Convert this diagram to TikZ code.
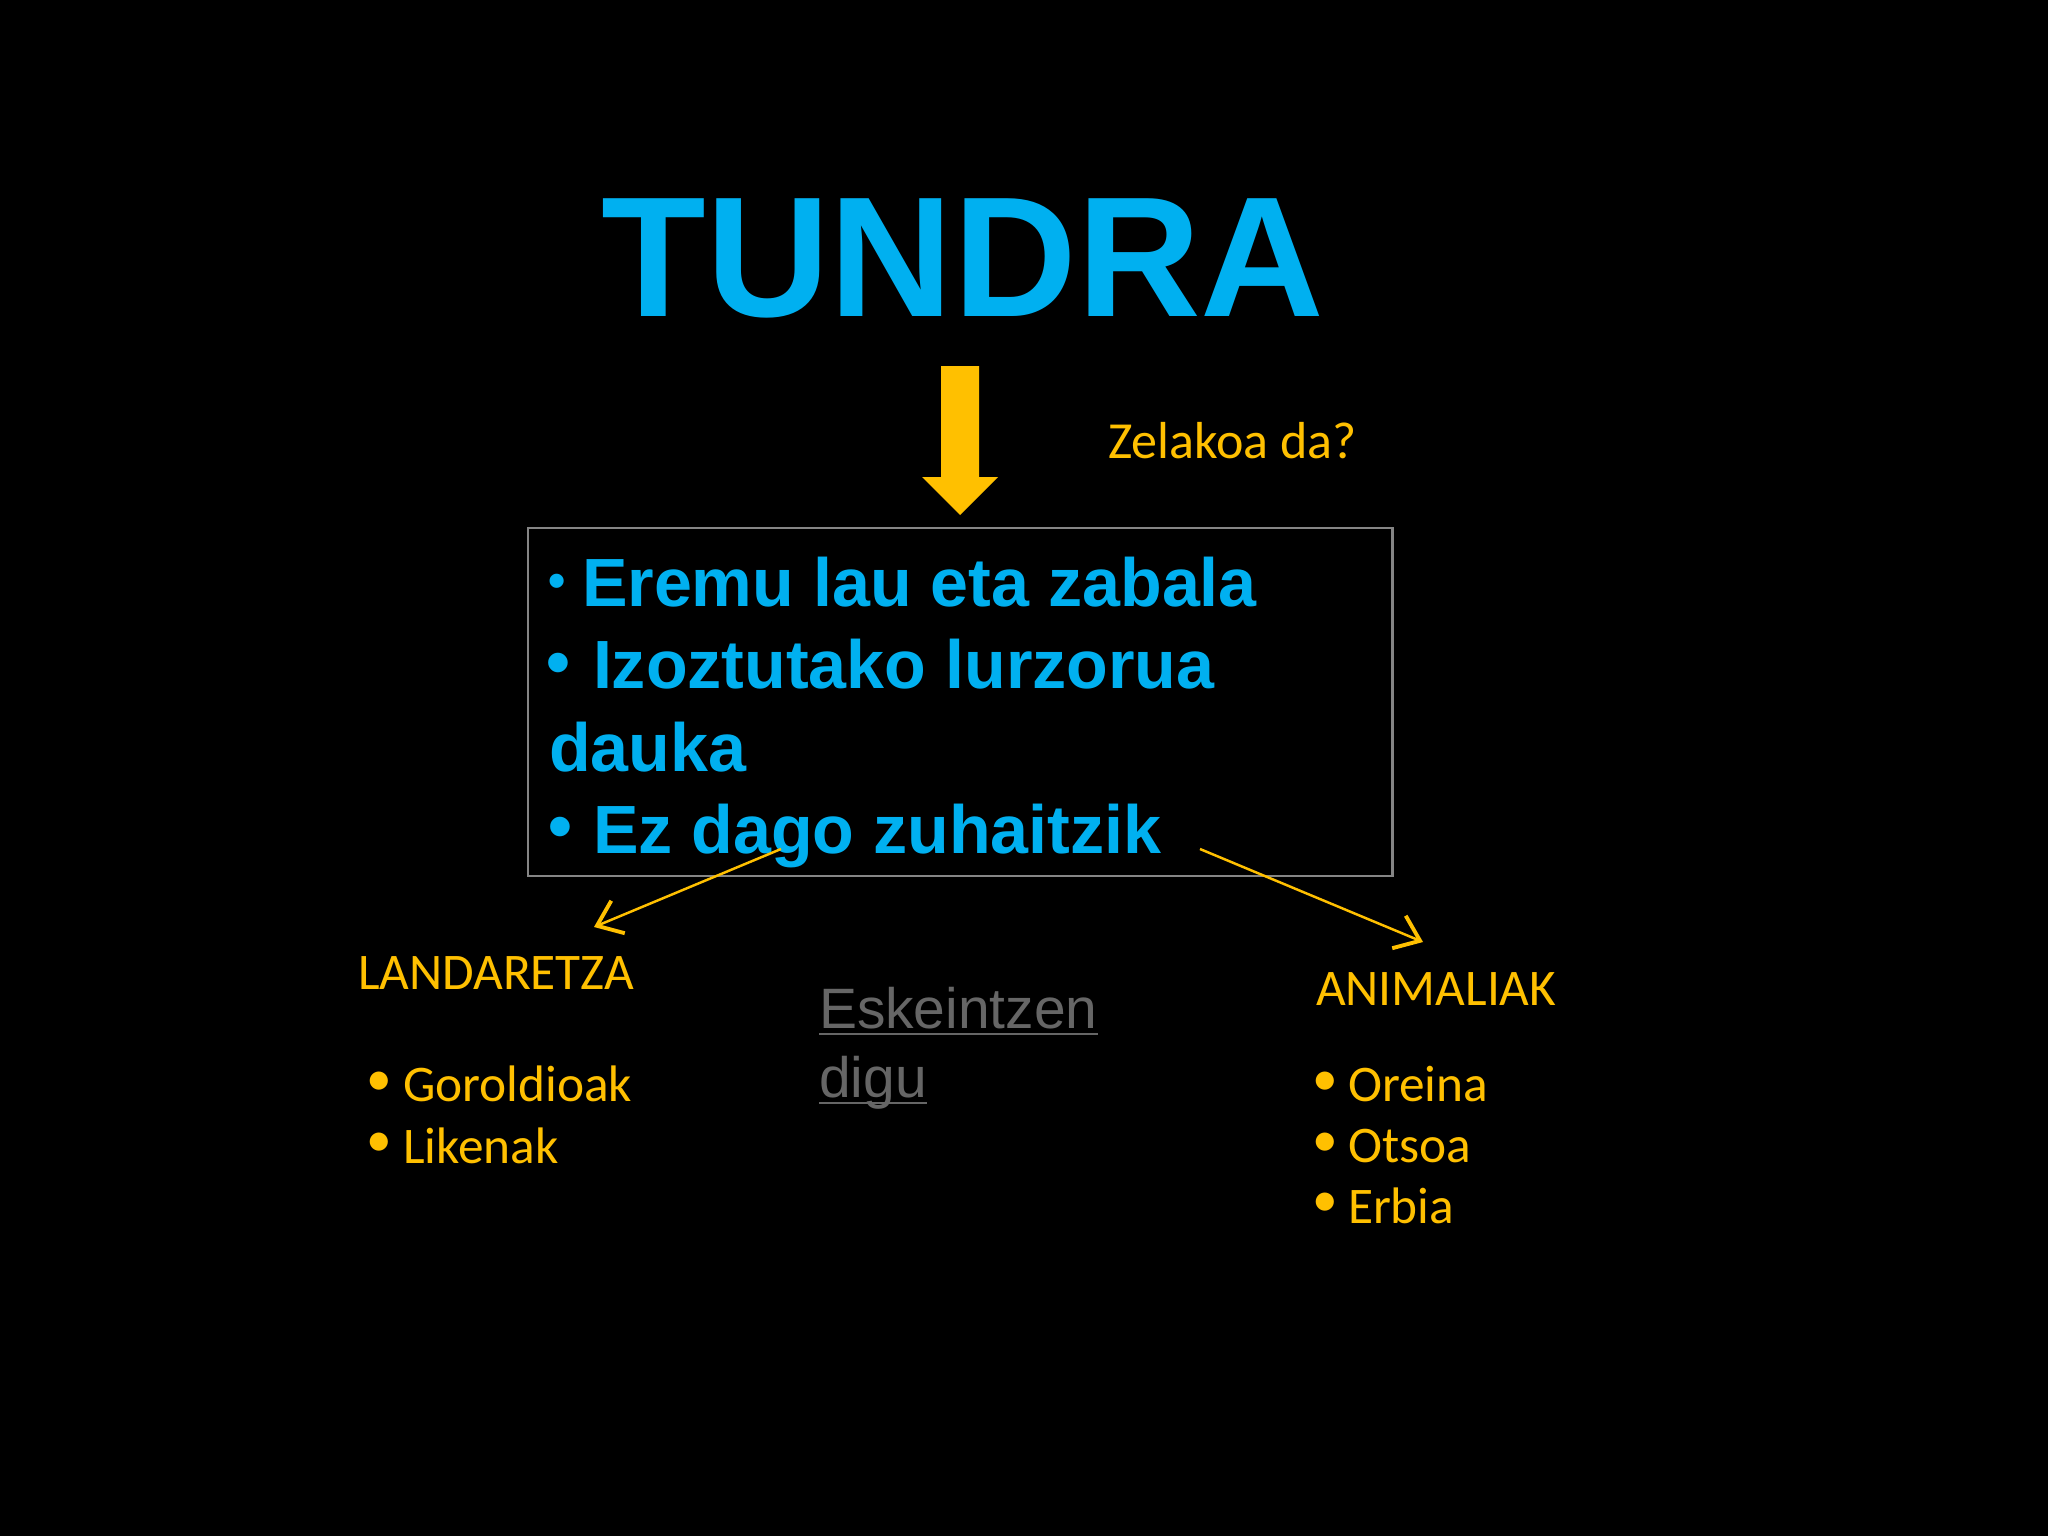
\documentclass[tikz,border=0pt]{standalone}
\usepackage{fontspec}
\setmainfont{Liberation Sans}
\newfontfamily\calfont{Carlito}
\usetikzlibrary{arrows.meta}
\definecolor{tcyan}{HTML}{00B0F0}
\definecolor{tyellow}{HTML}{FFC000}
\definecolor{boxgray}{HTML}{858585}
\definecolor{linkgray}{HTML}{666666}
\newcommand\grayul[1]{\sbox0{#1}\rlap{\rule[-1.9pt]{\wd0}{0.6pt}}\usebox0}
\begin{document}
\begin{tikzpicture}[x=0.01cm,y=-0.01cm,
  every node/.style={inner sep=0pt, outer sep=0pt},
  boxtext/.style={anchor=base west, text=tcyan, font=\fontsize{19.4pt}{23pt}\selectfont\bfseries},
  boxbullet/.style={anchor=center, text=tcyan, font=\fontsize{19.4pt}{23pt}\selectfont\bfseries},
  ytext/.style={anchor=base west, text=tyellow, font=\calfont\fontsize{14.6pt}{17pt}\selectfont},
  ybullet/.style={anchor=center, text=tyellow, font=\calfont\fontsize{14.6pt}{17pt}\selectfont},
  linkarrow/.style={draw=tyellow, line width=0.7pt, -{Straight Barb[length=6.5pt,width=10pt,line width=1.1pt]}},
  ]
\useasboundingbox (0,0) rectangle (2048,1536);
\fill[black] (0,0) rectangle (2048,1536);

% title
\node[anchor=base, text=tcyan, font=\fontsize{48.7pt}{58pt}\selectfont\bfseries] (title) at (963,316) {TUNDRA};

% big yellow arrow
\fill[tyellow] (941,366) -- (979,366) -- (979,477) -- (998,477) -- (960,515) -- (922,477) -- (941,477) -- cycle;

\node[ytext, font=\calfont\fontsize{14.8pt}{17pt}\selectfont] (question) at (1108,458) {Zelakoa da?};

% box
\node[draw=boxgray, line width=0.6pt, anchor=north west, minimum width=8.64cm, minimum height=3.48cm] (box) at (528,528) {};

\node[boxbullet, font=\fontsize{14pt}{17pt}\selectfont\bfseries] (b1) at (557,586) {•};
\node[boxtext] (l1) at (582,606) {Eremu lau eta zabala};
\node[boxbullet] (b2) at (558,669) {•};
\node[boxtext] (l2) at (593,688) {Izoztutako lurzorua};
\node[boxtext] (l3) at (549,771) {dauka};
\node[boxbullet] (b4) at (560,833) {•};
\node[boxtext] (l4) at (593,853) {Ez dago zuhaitzik};

% connectors
\coordinate (ls) at (781,849);
\coordinate (lt) at (594,927);
\coordinate (rs) at (1200,849);
\coordinate (rt) at (1423,942);
\draw[linkarrow] (ls) -- (lt);
\draw[linkarrow] (rs) -- (rt);

% left column
\node[ytext] (land) at (358,989) {LANDARETZA};
\node[ybullet] (lb1) at (379,1084) {•};
\node[ytext] (lit1) at (403,1101) {Goroldioak};
\node[ybullet] (lb2) at (379,1145) {•};
\node[ytext] (lit2) at (403,1163) {Likenak};

% middle
\node[anchor=base west, text=linkgray, font=\fontsize{16.2pt}{19pt}\selectfont] (esk1) at (819,1028) {\grayul{Eskeintzen}};
\node[anchor=base west, text=linkgray, font=\fontsize{16.2pt}{19pt}\selectfont] (esk2) at (819,1097) {\grayul{digu}};

% right column
\node[ytext] (anim) at (1316,1005) {ANIMALIAK};
\node[ybullet] (rb1) at (1325,1084) {•};
\node[ytext] (rit1) at (1348,1101) {Oreina};
\node[ybullet] (rb2) at (1325,1145) {•};
\node[ytext] (rit2) at (1348,1162) {Otsoa};
\node[ybullet] (rb3) at (1325,1205) {•};
\node[ytext] (rit3) at (1348,1223) {Erbia};
\end{tikzpicture}
\end{document}
